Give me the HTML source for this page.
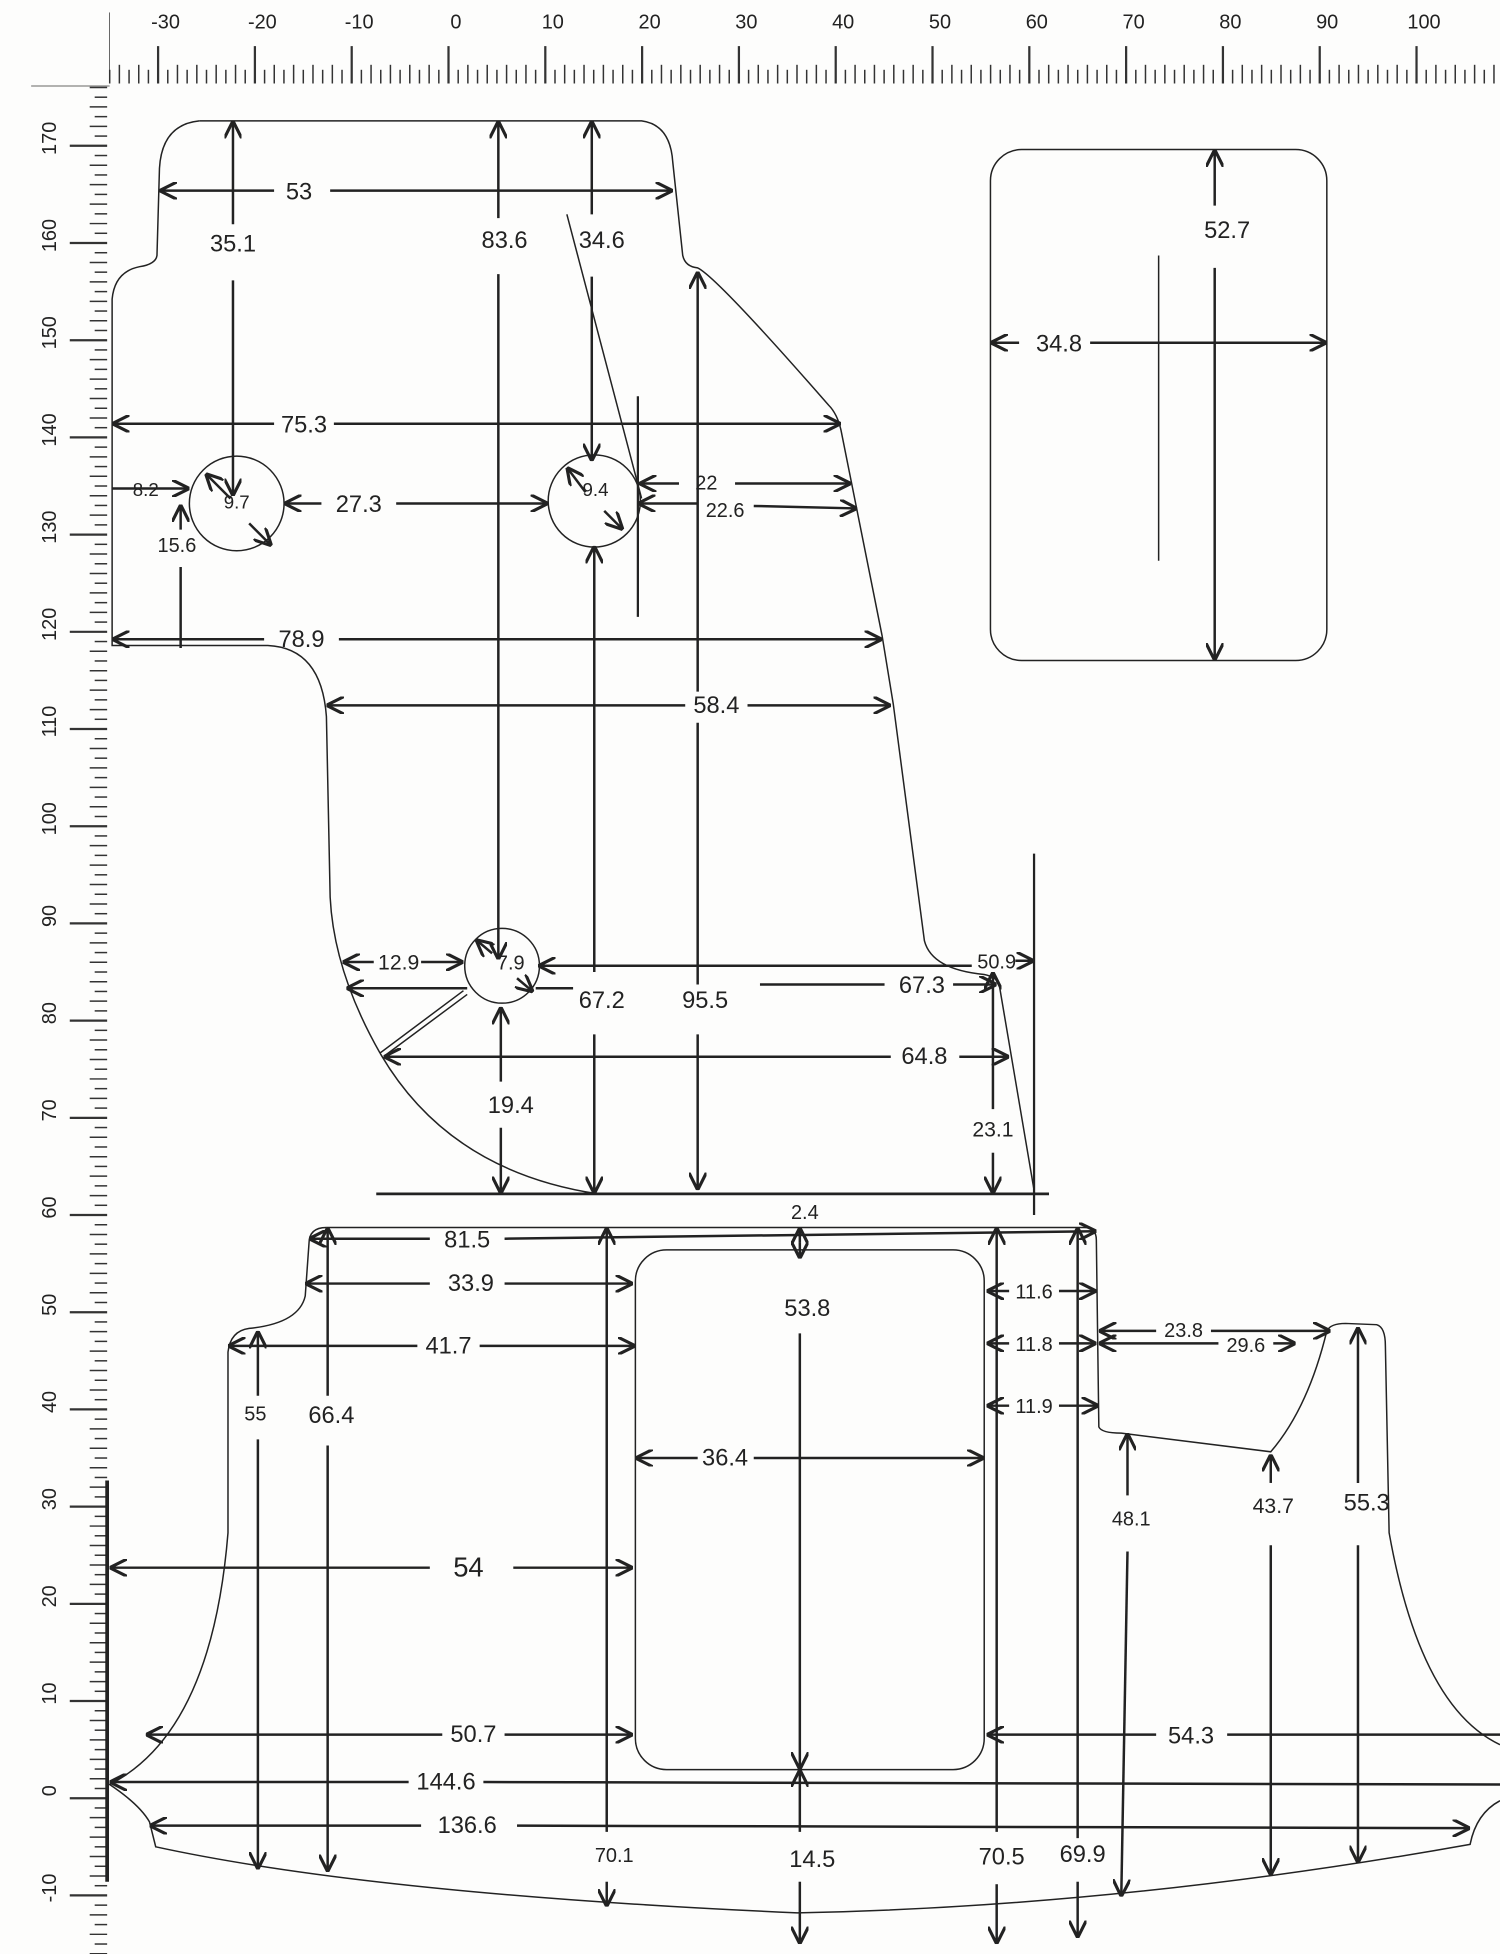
<!DOCTYPE html>
<html><head><meta charset="utf-8"><style>
html,body{margin:0;padding:0;background:#fdfdfc;}
svg{display:block}
text{font-family:"Liberation Sans",sans-serif;fill:#222}
</style></head><body>
<svg id="s" width="1500" height="1954" viewBox="0 0 1204 1568" preserveAspectRatio="none" xmlns="http://www.w3.org/2000/svg">
<defs>
<marker id="a" viewBox="0 0 10 10" refX="10" refY="5" markerWidth="7" markerHeight="7" orient="auto-start-reverse"><path d="M0,0 L10,5 L0,10" fill="none" stroke="#222" stroke-width="1.8"/></marker>
</defs>
<rect width="1204" height="1568" fill="#fdfdfc"/>
<g id="ruler" stroke="#333"></g>
<g fill="none" stroke="#222" stroke-width="1.2">
<!-- top shape -->
<path d="M160,97 L515,97 Q538,100 540,130 L548,205 Q550,214 560,215 Q575,222 665,325 Q672,332 675,345 L708,510 L717,565 L742,755 Q748,778 790,782 Q800,784 802,790 L830,955"/>
<path d="M160,97 Q130,100 128,135 L126,205 Q125,212 112,214 Q92,218 90,240 L90,518 L215,518 Q258,520 262,575 L265,720 Q268,780 305,845"/>
<path d="M305,845 Q360,940 480,958"/>
<line x1="302" y1="958" x2="842" y2="958" stroke-width="2.2"/>
<path d="M305,845 L372,795 M309,847 L375,798"/>
<line x1="830" y1="685" x2="830" y2="975" stroke-width="1.8"/>
<circle cx="190" cy="404" r="38"/>
<circle cx="477" cy="402" r="37"/>
<circle cx="403" cy="775" rx="30" r="30"/>
<rect x="795" y="120" width="270" height="410" rx="25"/>
<line x1="930" y1="205" x2="930" y2="450"/>
<line x1="455" y1="172" x2="515" y2="400"/>
<line x1="512" y1="318" x2="512" y2="495" stroke-width="1.8"/>
<!-- bottom shape -->
<path d="M262,985 L870,985 Q880,985 880,995 L882,1145 Q884,1150 900,1150 L1020,1165 Q1050,1130 1065,1068 Q1068,1062 1080,1062 L1105,1063 Q1112,1065 1112,1080 L1115,1230 Q1140,1370 1204,1400"/>
<path d="M262,985 Q248,985 248,998 L245,1040 Q240,1062 200,1066 Q185,1068 183,1085 L183,1230 Q170,1390 88,1432 L88,1432 Q112,1448 120,1462 L125,1482 Q300,1520 640,1535 Q900,1530 1180,1480 Q1185,1455 1204,1445"/>
<rect x="510" y="1003" width="280" height="417" rx="25"/>
</g>
<line x1="86" y1="1188" x2="86" y2="1510" stroke="#222" stroke-width="3"/>
<g stroke="#222" stroke-width="2" fill="none">
<!-- helper: arrows -->
<line x1="220" y1="153" x2="128" y2="153" marker-end="url(#a)"/><line x1="265" y1="153" x2="540" y2="153" marker-end="url(#a)"/>
<line x1="187" y1="180" x2="187" y2="97" marker-end="url(#a)"/><line x1="187" y1="225" x2="187" y2="398" marker-end="url(#a)"/>
<line x1="400" y1="175" x2="400" y2="97" marker-end="url(#a)"/><line x1="400" y1="220" x2="400" y2="770" marker-end="url(#a)"/>
<line x1="475" y1="172" x2="475" y2="97" marker-end="url(#a)"/><line x1="475" y1="222" x2="475" y2="370" marker-end="url(#a)"/>
<line x1="220" y1="340" x2="90" y2="340" marker-end="url(#a)"/><line x1="268" y1="340" x2="675" y2="340" marker-end="url(#a)"/>
<line x1="90" y1="392" x2="152" y2="392" marker-end="url(#a)"/>
<line x1="258" y1="404" x2="228" y2="404" marker-end="url(#a)"/><line x1="318" y1="404" x2="440" y2="404" marker-end="url(#a)"/>
<line x1="145" y1="425" x2="145" y2="405" marker-end="url(#a)"/><line x1="145" y1="455" x2="145" y2="520" />
<line x1="545" y1="388" x2="513" y2="388" marker-end="url(#a)"/><line x1="590" y1="388" x2="683" y2="388" marker-end="url(#a)"/>
<line x1="560" y1="404" x2="512" y2="404" marker-end="url(#a)"/><line x1="605" y1="406" x2="688" y2="408" marker-end="url(#a)"/>
<line x1="212" y1="513" x2="90" y2="513" marker-end="url(#a)"/><line x1="272" y1="513" x2="708" y2="513" marker-end="url(#a)"/>
<line x1="550" y1="566" x2="262" y2="566" marker-end="url(#a)"/><line x1="600" y1="566" x2="715" y2="566" marker-end="url(#a)"/>
<line x1="560" y1="555" x2="560" y2="218" marker-end="url(#a)"/><line x1="560" y1="580" x2="560" y2="790"/><line x1="560" y1="830" x2="560" y2="955" marker-end="url(#a)"/>
<line x1="477" y1="780" x2="477" y2="438" marker-end="url(#a)"/><line x1="477" y1="830" x2="477" y2="958" marker-end="url(#a)"/>
<line x1="300" y1="772" x2="275" y2="772" marker-end="url(#a)"/><line x1="338" y1="772" x2="372" y2="772" marker-end="url(#a)"/>
<line x1="375" y1="793" x2="278" y2="793" marker-end="url(#a)"/>
<line x1="430" y1="793" x2="460" y2="793"/><line x1="610" y1="790" x2="710" y2="790"/><line x1="765" y1="790" x2="800" y2="790" marker-end="url(#a)"/>
<line x1="780" y1="775" x2="432" y2="775" marker-end="url(#a)"/>
<line x1="815" y1="771" x2="830" y2="771" marker-end="url(#a)"/>
<line x1="715" y1="848" x2="308" y2="848" marker-end="url(#a)"/><line x1="770" y1="848" x2="810" y2="848" marker-end="url(#a)"/>
<line x1="402" y1="868" x2="402" y2="808" marker-end="url(#a)"/><line x1="402" y1="905" x2="402" y2="958" marker-end="url(#a)"/>
<line x1="797" y1="890" x2="797" y2="780" marker-end="url(#a)"/><line x1="797" y1="925" x2="797" y2="958" marker-end="url(#a)"/>
<line x1="975" y1="165" x2="975" y2="120" marker-end="url(#a)"/><line x1="975" y1="215" x2="975" y2="530" marker-end="url(#a)"/>
<line x1="818" y1="275" x2="795" y2="275" marker-end="url(#a)"/><line x1="875" y1="275" x2="1065" y2="275" marker-end="url(#a)"/>
<!-- bottom dims -->
<line x1="642" y1="997" x2="642" y2="985" marker-end="url(#a)"/><line x1="642" y1="997" x2="642" y2="1010" marker-end="url(#a)"/>
<line x1="345" y1="994" x2="248" y2="994" marker-end="url(#a)"/><line x1="405" y1="994" x2="880" y2="988" marker-end="url(#a)"/>
<line x1="345" y1="1030" x2="245" y2="1030" marker-end="url(#a)"/><line x1="405" y1="1030" x2="508" y2="1030" marker-end="url(#a)"/>
<line x1="335" y1="1080" x2="183" y2="1080" marker-end="url(#a)"/><line x1="385" y1="1080" x2="510" y2="1080" marker-end="url(#a)"/>
<line x1="487" y1="1470" x2="487" y2="985" marker-end="url(#a)"/><line x1="487" y1="1510" x2="487" y2="1530" marker-end="url(#a)"/>
<line x1="207" y1="1120" x2="207" y2="1068" marker-end="url(#a)"/><line x1="207" y1="1155" x2="207" y2="1500" marker-end="url(#a)"/>
<line x1="263" y1="1120" x2="263" y2="985" marker-end="url(#a)"/><line x1="263" y1="1160" x2="263" y2="1502" marker-end="url(#a)"/>
<line x1="642" y1="1070" x2="642" y2="1420" marker-end="url(#a)"/>
<line x1="642" y1="1470" x2="642" y2="1420" marker-end="url(#a)"/><line x1="642" y1="1510" x2="642" y2="1560" marker-end="url(#a)"/>
<line x1="560" y1="1170" x2="510" y2="1170" marker-end="url(#a)"/><line x1="605" y1="1170" x2="790" y2="1170" marker-end="url(#a)"/>
<line x1="345" y1="1258" x2="88" y2="1258" marker-end="url(#a)"/><line x1="412" y1="1258" x2="508" y2="1258" marker-end="url(#a)"/>
<line x1="355" y1="1392" x2="117" y2="1392" marker-end="url(#a)"/><line x1="405" y1="1392" x2="508" y2="1392" marker-end="url(#a)"/>
<line x1="328" y1="1430" x2="88" y2="1430" marker-end="url(#a)"/><line x1="388" y1="1430" x2="1204" y2="1432"/>
<line x1="338" y1="1465" x2="120" y2="1465" marker-end="url(#a)"/><line x1="415" y1="1465" x2="1180" y2="1467" marker-end="url(#a)"/>
<line x1="928" y1="1392" x2="792" y2="1392" marker-end="url(#a)"/><line x1="985" y1="1392" x2="1204" y2="1392"/>
<line x1="800" y1="1470" x2="800" y2="985" marker-end="url(#a)"/><line x1="800" y1="1512" x2="800" y2="1560" marker-end="url(#a)"/>
<line x1="865" y1="1475" x2="865" y2="985" marker-end="url(#a)"/><line x1="865" y1="1510" x2="865" y2="1555" marker-end="url(#a)"/>
<line x1="810" y1="1036" x2="792" y2="1036" marker-end="url(#a)"/><line x1="850" y1="1036" x2="880" y2="1036" marker-end="url(#a)"/>
<line x1="810" y1="1078" x2="792" y2="1078" marker-end="url(#a)"/><line x1="850" y1="1078" x2="880" y2="1078" marker-end="url(#a)"/>
<line x1="810" y1="1128" x2="792" y2="1128" marker-end="url(#a)"/><line x1="850" y1="1128" x2="882" y2="1128" marker-end="url(#a)"/>
<line x1="928" y1="1068" x2="882" y2="1068" marker-end="url(#a)"/><line x1="972" y1="1068" x2="1068" y2="1068" marker-end="url(#a)"/>
<line x1="978" y1="1078" x2="882" y2="1078" marker-end="url(#a)"/><line x1="1022" y1="1078" x2="1040" y2="1078" marker-end="url(#a)"/>
<line x1="905" y1="1200" x2="905" y2="1150" marker-end="url(#a)"/><line x1="905" y1="1245" x2="900" y2="1522" marker-end="url(#a)"/>
<line x1="1020" y1="1190" x2="1020" y2="1167" marker-end="url(#a)"/><line x1="1020" y1="1240" x2="1020" y2="1505" marker-end="url(#a)"/>
<line x1="1090" y1="1190" x2="1090" y2="1065" marker-end="url(#a)"/><line x1="1090" y1="1240" x2="1090" y2="1495" marker-end="url(#a)"/>
<!-- circle diagonals -->
<line x1="185" y1="400" x2="165" y2="380" marker-end="url(#a)"/><line x1="200" y1="420" x2="218" y2="438" marker-end="url(#a)"/>
<line x1="470" y1="395" x2="455" y2="375" marker-end="url(#a)"/><line x1="485" y1="410" x2="500" y2="425" marker-end="url(#a)"/>
<line x1="395" y1="765" x2="382" y2="754" marker-end="url(#a)"/><line x1="415" y1="785" x2="428" y2="796" marker-end="url(#a)"/>
</g>
<g font-size="19" text-anchor="middle">
<text x="240" y="160">53</text><text x="187" y="202">35.1</text><text x="405" y="199">83.6</text><text x="483" y="199">34.6</text>
<text x="244" y="347">75.3</text><text x="117" y="398" font-size="15">8.2</text><text x="190" y="408" font-size="15">9.7</text>
<text x="288" y="411">27.3</text><text x="142" y="443" font-size="16">15.6</text><text x="478" y="398" font-size="15">9.4</text>
<text x="567" y="393" font-size="16">22</text><text x="582" y="415" font-size="16">22.6</text><text x="242" y="519">78.9</text>
<text x="575" y="572">58.4</text><text x="320" y="778" font-size="17">12.9</text><text x="410" y="778" font-size="16">7.9</text>
<text x="483" y="809">67.2</text><text x="566" y="809">95.5</text><text x="740" y="797" fill="#445">67.3</text><text x="800" y="777" font-size="16">50.9</text>
<text x="742" y="854">64.8</text><text x="410" y="893">19.4</text><text x="797" y="912" font-size="17">23.1</text>
<text x="850" y="282">34.8</text><text x="985" y="191">52.7</text>
<text x="646" y="978" font-size="16">2.4</text><text x="375" y="1001">81.5</text><text x="378" y="1036">33.9</text><text x="360" y="1086">41.7</text>
<text x="648" y="1056">53.8</text><text x="205" y="1140" font-size="16">55</text><text x="266" y="1142">66.4</text><text x="582" y="1176">36.4</text>
<text x="376" y="1265" font-size="22">54</text><text x="380" y="1398">50.7</text><text x="358" y="1436">144.6</text><text x="375" y="1471">136.6</text>
<text x="956" y="1399">54.3</text><text x="493" y="1494" font-size="16">70.1</text><text x="652" y="1498">14.5</text><text x="804" y="1496">70.5</text><text x="869" y="1494">69.9</text>
<text x="830" y="1042" font-size="16">11.6</text><text x="830" y="1084" font-size="16">11.8</text><text x="830" y="1134" font-size="16">11.9</text>
<text x="950" y="1073" font-size="16">23.8</text><text x="1000" y="1085" font-size="16">29.6</text>
<text x="908" y="1224" font-size="16">48.1</text><text x="1022" y="1214" font-size="17">43.7</text><text x="1097" y="1212">55.3</text>
</g>
<g id="rl" font-size="16" font-family="Liberation Sans" text-anchor="middle"></g>
<script>
(function(){
var ns="http://www.w3.org/2000/svg",g=document.getElementById("ruler"),t=document.getElementById("rl");
function L(a,b,c,d,w){var e=document.createElementNS(ns,"line");e.setAttribute("x1",a);e.setAttribute("y1",b);e.setAttribute("x2",c);e.setAttribute("y2",d);e.setAttribute("stroke-width",w);g.appendChild(e);}
function T(x,y,s,r){var e=document.createElementNS(ns,"text");e.setAttribute("x",x);e.setAttribute("y",y);if(r)e.setAttribute("transform","rotate(-90 "+x+" "+y+")");e.textContent=s;t.appendChild(e);}
for(var u=-35;u<=108;u++){var x=360+7.77*u;if(x<88||x>1204)continue;var m=(u%10==0),h=m?37:(u%2==0?52:56);L(x,h,x,67,m?1.8:1.2);if(m)T(x+6,23,String(u));}
for(var v=176;v>=-17;v--){var y=117+(170-v)*7.8;if(y<70||y>1568)continue;var m=(v%10==0),s=m?56:(v%2==0?72:76);L(s,y,86,y,m?1.8:1.2);if(m)T(45,y-6,String(v),true);}
L(88,10,88,67,0.6);L(25,69,88,69,0.6);
})();
</script>
</svg>
</body></html>
